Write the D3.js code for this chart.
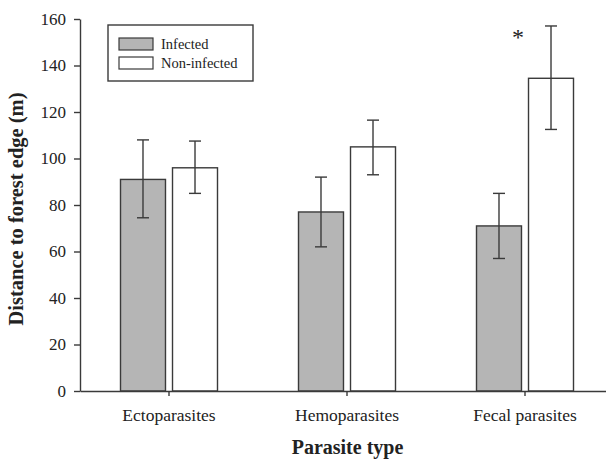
<!DOCTYPE html>
<html><head><meta charset="utf-8">
<script src="https://cdn.jsdelivr.net/npm/d3@7"></script>
<style>body{margin:0;background:#fff}svg{display:block}text{font-family:"Liberation Serif","Times New Roman",serif;fill:#222}</style>
</head><body><svg id="c" width="606" height="462"></svg>
<script>
const categories = ["Ectoparasites", "Hemoparasites", "Fecal parasites"];
const seriesNames = ["Infected", "Non-infected"];
const infected = [91, 77, 71];
const infectedLow = [74.5, 62, 57];
const infectedHigh = [108, 92, 85];
const nonInfected = [96, 105, 134.5];
const nonInfectedLow = [85, 93, 112.5];
const nonInfectedHigh = [107.5, 116.5, 157];
const yTicks = [0, 20, 40, 60, 80, 100, 120, 140, 160];
const significance = ["", "", "*"];

const svg = d3.select("#c");
const mLeft = 80, mRight = 614, mTop = 19, mBottom = 391;
const x = d3.scaleBand().domain(categories).range([mLeft, mRight]);
const y = d3.scaleLinear().domain([0, 160]).range([mBottom, mTop]);
const sub = d3.scaleBand().domain(seriesNames).range([-48.5, 48.5]).paddingInner(0.135);
const fills = {"Infected": "#b5b5b5", "Non-infected": "#ffffff"};
const stroke = "#3a3a3a";

const rows = [];
categories.forEach((c, i) => {
  rows.push({c, s: "Infected", v: infected[i], lo: infectedLow[i], hi: infectedHigh[i]});
  rows.push({c, s: "Non-infected", v: nonInfected[i], lo: nonInfectedLow[i], hi: nonInfectedHigh[i]});
});
const cx = d => x(d.c) + x.bandwidth() / 2 + sub(d.s);

svg.selectAll("rect.bar").data(rows).join("rect").attr("class", "bar")
  .attr("x", d => cx(d)).attr("width", sub.bandwidth())
  .attr("y", d => y(d.v)).attr("height", d => y(0) - y(d.v))
  .attr("fill", d => fills[d.s]).attr("stroke", stroke).attr("stroke-width", 1.4);

const eb = svg.append("g").attr("stroke", stroke).attr("stroke-width", 1.4);
rows.forEach(d => {
  const m = cx(d) + sub.bandwidth() / 2;
  eb.append("line").attr("x1", m).attr("x2", m).attr("y1", y(d.lo)).attr("y2", y(d.hi));
  eb.append("line").attr("x1", m - 6).attr("x2", m + 6).attr("y1", y(d.lo)).attr("y2", y(d.lo));
  eb.append("line").attr("x1", m - 6).attr("x2", m + 6).attr("y1", y(d.hi)).attr("y2", y(d.hi));
});

// axes
const ya = svg.append("g").attr("transform", `translate(${mLeft},0)`)
  .call(d3.axisLeft(y).tickValues(yTicks).tickSize(6).tickSizeOuter(0));
ya.select(".domain").attr("stroke", stroke).attr("stroke-width", 1.4);
ya.selectAll(".tick line").attr("stroke", stroke).attr("stroke-width", 1.4);
ya.selectAll(".tick text").attr("font-size", 17).attr("font-family", "Liberation Serif").attr("fill", "#222").attr("x", -14);

const xa = svg.append("g").attr("transform", `translate(0,${mBottom})`)
  .call(d3.axisBottom(x).tickSize(5).tickSizeOuter(0));
xa.select(".domain").attr("stroke", stroke).attr("stroke-width", 1.4);
xa.selectAll(".tick line").attr("stroke", stroke).attr("stroke-width", 1.4);
xa.selectAll(".tick text").attr("font-size", 17.5).attr("font-family", "Liberation Serif").attr("fill", "#222").attr("y", 18);

// significance
svg.selectAll("text.sig").data(categories).join("text").attr("class", "sig")
  .attr("x", c => x(c) + x.bandwidth() / 2 - 7)
  .attr("y", 45)
  .attr("text-anchor", "middle").attr("font-size", 24)
  .text((c, i) => significance[i]);

// titles
svg.append("text").attr("transform", `translate(23,209) rotate(-90)`)
  .attr("text-anchor", "middle").attr("font-weight", "bold").attr("font-size", 20.5)
  .text("Distance to forest edge (m)");
svg.append("text").attr("x", 347.5).attr("y", 454)
  .attr("text-anchor", "middle").attr("font-weight", "bold").attr("font-size", 20)
  .text("Parasite type");

// legend
const lg = svg.append("g");
lg.append("rect").attr("x", 108).attr("y", 25).attr("width", 145).attr("height", 56)
  .attr("fill", "#fff").attr("stroke", stroke).attr("stroke-width", 1.4);
seriesNames.forEach((s, i) => {
  lg.append("rect").attr("x", 119).attr("y", 38 + i * 19).attr("width", 34).attr("height", 12)
    .attr("fill", fills[s]).attr("stroke", stroke).attr("stroke-width", 1.2);
  lg.append("text").attr("x", 161).attr("y", 49 + i * 19).attr("font-size", 14.5).text(s);
});
</script></body></html>
